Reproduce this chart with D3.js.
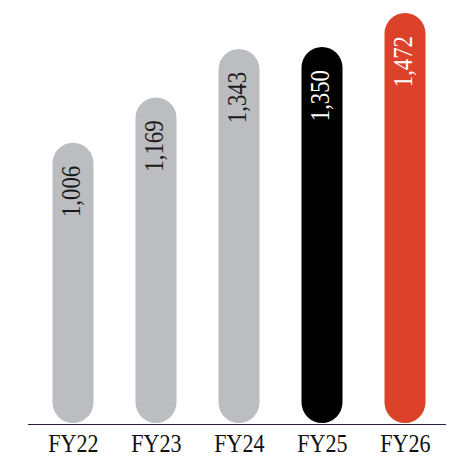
<!DOCTYPE html>
<html>
<head>
<meta charset="utf-8">
<script src="https://cdn.jsdelivr.net/npm/d3@7/dist/d3.min.js"></script>
<style>
  html, body { margin: 0; padding: 0; background: #fff; }
  svg { display: block; }
</style>
</head>
<body>
<svg id="chart" width="456" height="457"></svg>
<script>
const categories = ["FY22", "FY23", "FY24", "FY25", "FY26"];
const values = [1006, 1169, 1343, 1350, 1472];
const valueLabels = ["1,006", "1,169", "1,343", "1,350", "1,472"];
const barColors = ["#bcbdc0", "#bcbdc0", "#bcbdc0", "#000000", "#dc4229"];
const labelColors = ["#1a1a1a", "#1a1a1a", "#1a1a1a", "#ffffff", "#ffffff"];

const svg = d3.select("#chart");
const baseY = 423;
const barW = 41;

const x = d3.scalePoint().domain(categories).range([73, 405]);
const y = d3.scaleLinear().domain([0, d3.max(values)]).range([baseY, 13]);

const font = "Liberation Serif, Times New Roman, serif";

const data = categories.map((c, i) => ({
  cat: c, value: values[i], label: valueLabels[i], color: barColors[i], lc: labelColors[i]
}));

// bars (pill shape)
svg.append("g").selectAll("rect")
  .data(data)
  .join("rect")
  .attr("x", d => x(d.cat) - barW / 2)
  .attr("y", d => y(d.value))
  .attr("width", barW)
  .attr("height", d => baseY - y(d.value))
  .attr("rx", barW / 2)
  .attr("ry", barW / 2)
  .attr("fill", d => d.color);

// value labels (rotated)
svg.append("g").selectAll("text")
  .data(data)
  .join("text")
  .attr("transform", d => `translate(${x(d.cat) + 6.5},${y(d.value) + 23}) rotate(-90) scale(0.86,1)`)
  .attr("text-anchor", "end")
  .attr("font-family", font)
  .attr("font-size", 26.5)
  .attr("fill", d => d.lc)
  .text(d => d.label);

// baseline
svg.append("line")
  .attr("x1", 28).attr("x2", 446)
  .attr("y1", baseY + 1.5).attr("y2", baseY + 1.5)
  .attr("stroke", "#2e1a40")
  .attr("stroke-width", 1.2);

// category axis
const axis = svg.append("g")
  .attr("transform", `translate(0,${baseY})`)
  .call(d3.axisBottom(x).tickSize(0).tickPadding(0));
axis.select(".domain").remove();
axis.selectAll(".tick text")
  .attr("y", 0)
  .attr("dy", 0)
  .attr("transform", "translate(0,29) scale(0.85,1)")
  .attr("font-family", font)
  .attr("font-size", 26)
  .attr("fill", "#111");
</script>
</body>
</html>
